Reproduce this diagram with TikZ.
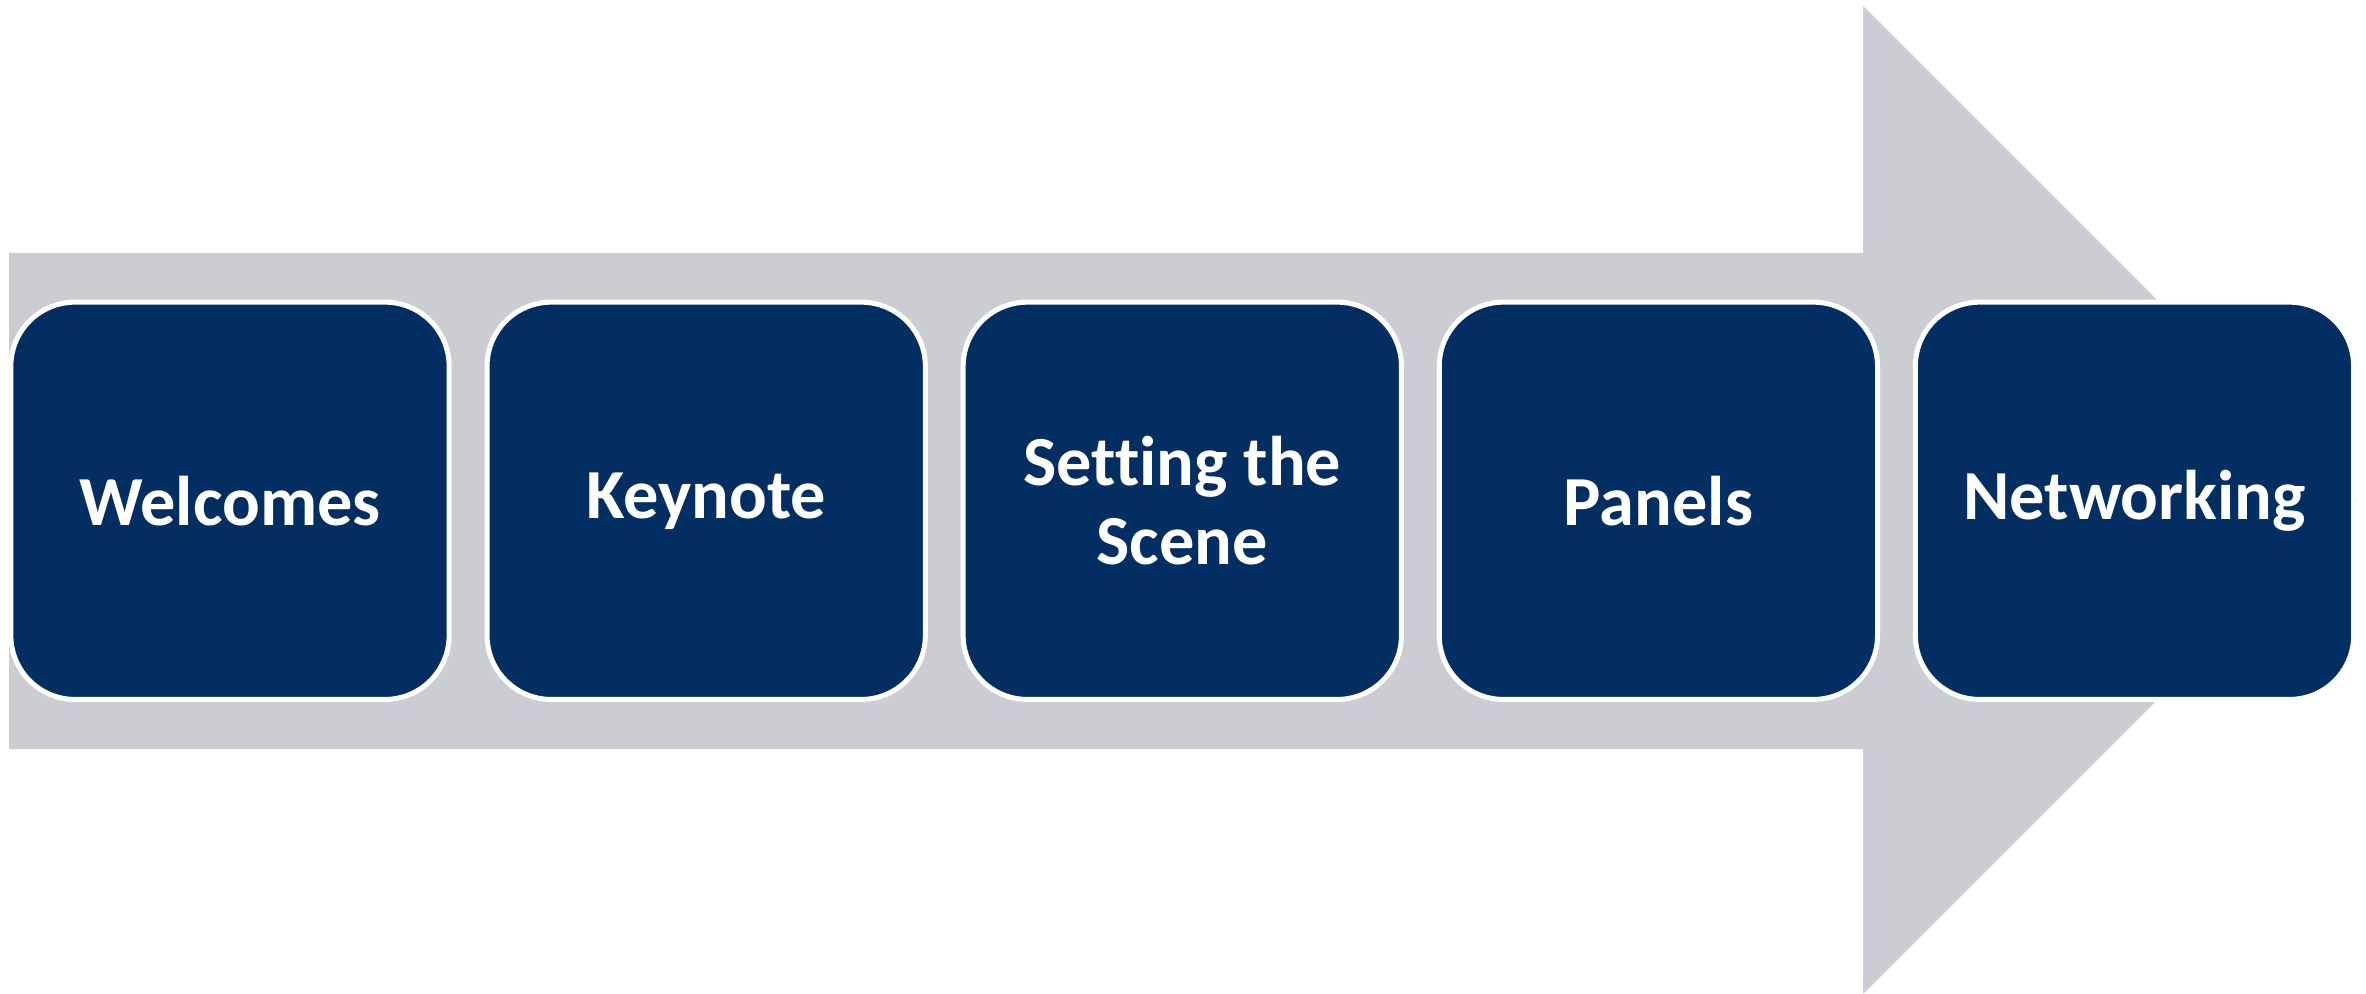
\documentclass[tikz,border=0pt]{standalone}
\usepackage{fontspec}
\setmainfont{Carlito}[Ligatures={NoCommon}]
\definecolor{navy}{RGB}{2,46,98}
\definecolor{arrowgray}{RGB}{204,205,210}
\tikzset{
  stagebox/.style={draw=white, line width=1.42pt, fill=navy, rounded corners=0.64cm,
    minimum width=4.38cm, minimum height=3.97cm, inner sep=0pt, align=center,
    text=white, font=\fontsize{20}{22.5}\selectfont\bfseries}
}
\begin{document}
\begin{tikzpicture}[x=0.01cm,y=-0.01cm]
\useasboundingbox (0,0) rectangle (2366,994);
\fill[arrowgray] (9,253) -- (1863,253) -- (1863,6) -- (2357,500) -- (1863,994) -- (1863,749) -- (9,749) -- cycle;
\node[stagebox] (welcomes) at (230,500.8) {Welcomes};
\node[stagebox] (keynote) at (706.2,500.8) {Keynote};
\node[stagebox] (scene) at (1182.3,500.8) {Setting the\\Scene};
\node[stagebox] (panels) at (1658.4,500.8) {Panels};
\node[stagebox] (networking) at (2134.5,500.8) {Networking};
\end{tikzpicture}
\end{document}
